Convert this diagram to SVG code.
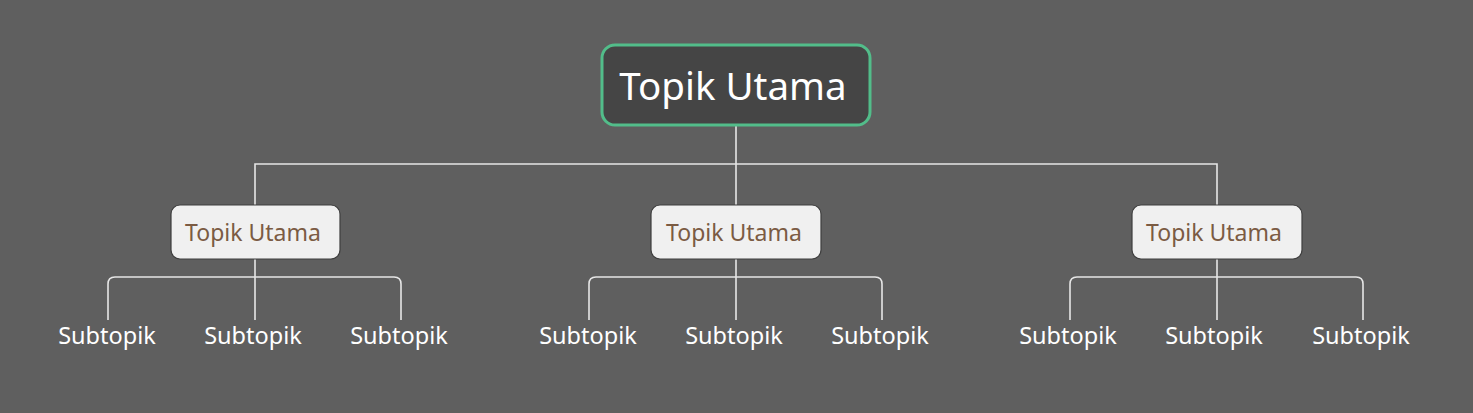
<svg xmlns="http://www.w3.org/2000/svg" width="1473" height="413" viewBox="0 0 1473 413">
<style>
.bg{fill:#5f5f5f}
.root rect{fill:#454545;stroke:#52bd8a;stroke-width:3}
.root text{fill:#ffffff;font-family:"Noto Sans","Open Sans",sans-serif;font-size:38.5px;text-anchor:middle}
.main rect{fill:#f0f0f0;stroke:#3e3e3e;stroke-width:1.2}
.main text{fill:#7b5b43;font-family:"Noto Sans","Open Sans",sans-serif;font-size:23px;text-anchor:middle}
.sub text{fill:#ffffff;font-family:"Noto Sans","Open Sans",sans-serif;font-size:23.5px;text-anchor:middle}
.conn path{fill:none;stroke:#e6e6e6;stroke-width:1.6}
</style>
<rect class="bg" x="0" y="0" width="1473" height="413"/>
<g id="connectors" class="conn">
<path d="M736 125V164M255 205V164H1217V205M736 164V205"/>
<path d="M255 259V320M108 320V284Q108 277 115 277H394Q401 277 401 284V320"/>
<path d="M736 259V320M589 320V284Q589 277 596 277H875Q882 277 882 284V320"/>
<path d="M1217 259V320M1070 320V284Q1070 277 1077 277H1356Q1363 277 1363 284V320"/>
</g>
<g id="root" class="root">
<rect x="602" y="45" width="268" height="80" rx="13"/>
<text x="733" y="100">Topik Utama</text>
</g>
<g id="main1" class="main">
<rect x="171" y="205" width="169" height="54" rx="9"/>
<text x="253" y="241">Topik Utama</text>
</g>
<g id="main2" class="main">
<rect x="651" y="205" width="170" height="54" rx="9"/>
<text x="734" y="241">Topik Utama</text>
</g>
<g id="main3" class="main">
<rect x="1132" y="205" width="170" height="54" rx="9"/>
<text x="1214" y="241">Topik Utama</text>
</g>
<g id="sub1" class="sub"><text x="107" y="344">Subtopik</text></g>
<g id="sub2" class="sub"><text x="253" y="344">Subtopik</text></g>
<g id="sub3" class="sub"><text x="399" y="344">Subtopik</text></g>
<g id="sub4" class="sub"><text x="588" y="344">Subtopik</text></g>
<g id="sub5" class="sub"><text x="734" y="344">Subtopik</text></g>
<g id="sub6" class="sub"><text x="880" y="344">Subtopik</text></g>
<g id="sub7" class="sub"><text x="1068" y="344">Subtopik</text></g>
<g id="sub8" class="sub"><text x="1214" y="344">Subtopik</text></g>
<g id="sub9" class="sub"><text x="1361" y="344">Subtopik</text></g>
</svg>
